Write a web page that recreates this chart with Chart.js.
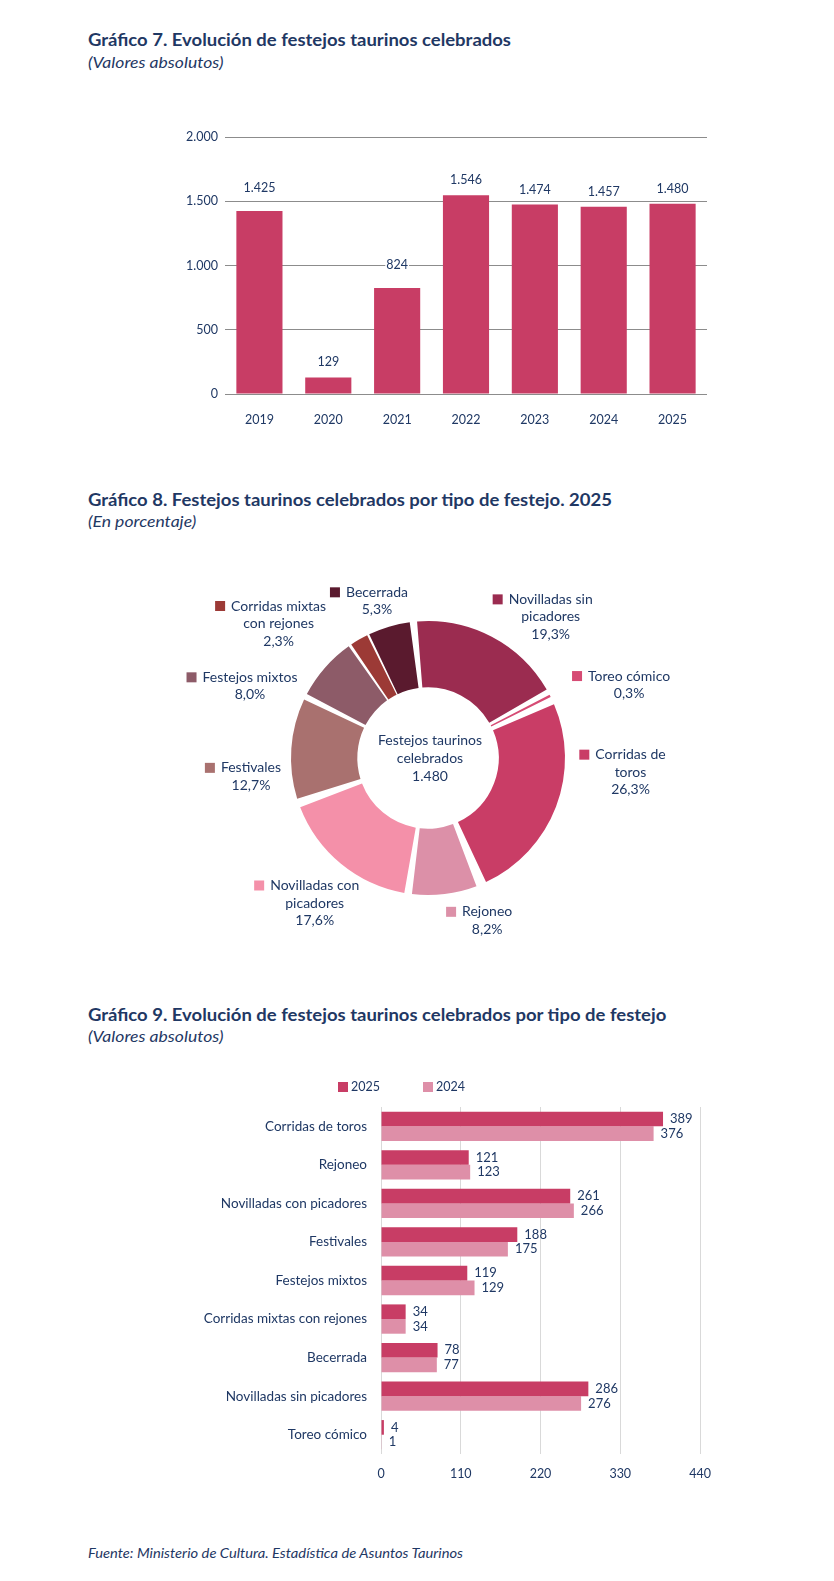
<!DOCTYPE html>
<html lang="es">
<head>
<meta charset="utf-8">
<title>Festejos taurinos</title>
<script src="https://cdn.jsdelivr.net/npm/chart.js@4.4.1/dist/chart.umd.min.js"></script>
<style>
  body { margin: 0; background: #fff; font-family: Lato, 'Open Sans', sans-serif; color: #1f3864; }
  .page { position: relative; width: 834px; height: 1581px; overflow: hidden; }
  .title { position: absolute; left: 88px; font-weight: 700; font-size: 16.5px; line-height: 20px;
           white-space: nowrap; transform: scaleX(1.12); transform-origin: left center; }
  .sub { position: absolute; left: 88px; font-style: italic; font-size: 15px; line-height: 18px;
         white-space: nowrap; transform: scaleX(1.17); transform-origin: left center; }
  .src { position: absolute; left: 88px; top: 1544px; font-style: italic; font-size: 13.5px; line-height: 18px;
         white-space: nowrap; transform: scaleX(1.09); transform-origin: left center; }
  .box { position: absolute; }
</style>
</head>
<body>
<div class="page">
  <div class="title" style="top:30px">Gráfico 7. Evolución de festejos taurinos celebrados</div>
  <div class="sub" style="top:53px">(Valores absolutos)</div>
  <div class="box" style="left:150px; top:115px; width:560px; height:309px"><canvas id="chart7"></canvas></div>

  <div class="title" style="top:490px">Gráfico 8. Festejos taurinos celebrados por tipo de festejo. 2025</div>
  <div class="sub" style="top:512px">(En porcentaje)</div>
  <div class="box" style="left:128px; top:568px; width:600px; height:380px"><canvas id="chart8"></canvas></div>

  <div class="title" style="top:1005px">Gráfico 9. Evolución de festejos taurinos celebrados por tipo de festejo</div>
  <div class="sub" style="top:1027px">(Valores absolutos)</div>
  <div class="box" style="left:150px; top:1070px; width:580px; height:414px"><canvas id="chart9"></canvas></div>

  <div class="src">Fuente: Ministerio de Cultura. Estadística de Asuntos Taurinos</div>
</div>

<script>
'use strict';

// --- Gráfico 7 ---
const years = ['2019', '2020', '2021', '2022', '2023', '2024', '2025'];
const festejosTotal = [1425, 129, 824, 1546, 1474, 1457, 1480];
const labelLift7 = [8, 0, 8, 0, 0, 0, 0]; // a few labels sit higher in the original

// --- Gráfico 8 (clockwise from the top) ---
const tipoLabels = [
    ['Novilladas sin', 'picadores'],
    ['Toreo cómico'],
    ['Corridas de', 'toros'],
    ['Rejoneo'],
    ['Novilladas con', 'picadores'],
    ['Festivales'],
    ['Festejos mixtos'],
    ['Corridas mixtas', 'con rejones'],
    ['Becerrada']
];
const tipoPct = [19.3, 0.3, 26.3, 8.2, 17.6, 12.7, 8.0, 2.3, 5.3];
const tipoColors = ['#9b2c50', '#d64b74', '#c93d66', '#dc90a8', '#f490a9', '#a9716f', '#8d5b68', '#9c3a36', '#5a1a2e'];
// where each slice label sits: angle (deg, clockwise from north) and distance from centre
const labelAngle = [41, 70, 94, 160, 218, 264, 292, 312, 342];
const labelDist = [187, 214, 203, 173, 184, 178, 192, 201, 165];

// --- Gráfico 9 ---
const tipoCats = ['Corridas de toros', 'Rejoneo', 'Novilladas con picadores', 'Festivales', 'Festejos mixtos',
    'Corridas mixtas con rejones', 'Becerrada', 'Novilladas sin picadores', 'Toreo cómico'];
const serie2025 = [389, 121, 261, 188, 119, 34, 78, 286, 4];
const serie2024 = [376, 123, 266, 175, 129, 34, 77, 276, 1];
const xTicks9 = [0, 110, 220, 330, 440];

const NAVY = '#1f3864';
const BAR = '#c83d65';
const BAR_LIGHT = '#de8fa8';
const FONT = 'Lato, "Open Sans", sans-serif';

Chart.defaults.font.family = FONT;
Chart.defaults.font.size = 12.5;
Chart.defaults.color = NAVY;
Chart.defaults.animation = false;

const fmt = v => String(v).replace(/\B(?=(\d{3})+(?!\d))/g, '.');
const fmtPct = v => v.toFixed(1).replace('.', ',') + '%';

// value labels above the bars (chart 7) or right of them (chart 9)
const barLabels = {
    id: 'barLabels',
    afterDatasetsDraw(chart) {
        const ctx = chart.ctx;
        const horizontal = chart.options.indexAxis === 'y';
        ctx.save();
        ctx.font = (horizontal ? '13px ' : '12.5px ') + FONT;
        chart.data.datasets.forEach((ds, di) => {
            chart.getDatasetMeta(di).data.forEach((el, i) => {
                const txt = fmt(ds.data[i]);
                if (horizontal) {
                    ctx.fillStyle = NAVY;
                    ctx.textAlign = 'left';
                    ctx.textBaseline = 'middle';
                    ctx.fillText(txt, el.x + 7, el.y);
                } else {
                    const y = el.y - 15 - labelLift7[i];
                    const w = ctx.measureText(txt).width;
                    ctx.fillStyle = '#fff';
                    ctx.fillRect(el.x - w / 2 - 1, y - 6, w + 2, 12);
                    ctx.fillStyle = NAVY;
                    ctx.textAlign = 'center';
                    ctx.textBaseline = 'middle';
                    ctx.fillText(txt, el.x, y);
                }
            });
        });
        ctx.restore();
    }
};

new Chart(document.getElementById('chart7'), {
    type: 'bar',
    data: {
        labels: years,
        datasets: [{ data: festejosTotal, backgroundColor: BAR, barPercentage: 0.67, categoryPercentage: 1 }]
    },
    options: {
        responsive: true,
        maintainAspectRatio: false,
        layout: { padding: { top: 22, right: 3 } },
        plugins: { legend: { display: false }, tooltip: { enabled: false } },
        scales: {
            x: {
                grid: { display: false },
                border: { display: false },
                ticks: { padding: 10 },
                afterFit(s) { s.height = 30; }
            },
            y: {
                min: 0, max: 2000,
                grid: { color: '#8c8c8c', lineWidth: 1, drawTicks: false },
                border: { display: false },
                ticks: { stepSize: 500, padding: 7, callback: v => fmt(v) },
                afterFit(s) { s.width = 75; }
            }
        }
    },
    plugins: [barLabels]
});

// doughnut labels with colour key, plus the text in the hole
const donutLabels = {
    id: 'donutLabels',
    afterDraw(chart) {
        const ctx = chart.ctx;
        const arc = chart.getDatasetMeta(0).data[0];
        const cx = arc.x, cy = arc.y;
        const lh = 17.5;
        ctx.save();
        ctx.font = '14px ' + FONT;
        ctx.textAlign = 'center';
        ctx.textBaseline = 'middle';
        tipoLabels.forEach((lines, i) => {
            const a = labelAngle[i] * Math.PI / 180;
            const x = cx + labelDist[i] * Math.sin(a);
            const y = cy - labelDist[i] * Math.cos(a);
            const all = lines.concat([fmtPct(tipoPct[i])]);
            const top = y - (all.length - 1) * lh / 2;
            ctx.fillStyle = NAVY;
            all.forEach((t, k) => ctx.fillText(t, x, top + k * lh));
            const w = ctx.measureText(all[0]).width;
            ctx.fillStyle = tipoColors[i];
            ctx.fillRect(x - w / 2 - 16, top - 5, 10, 10);
        });
        ctx.fillStyle = NAVY;
        ['Festejos taurinos', 'celebrados', fmt(1480)].forEach((t, k) => ctx.fillText(t, cx + 2, cy - 18 + k * 18));
        ctx.restore();
    }
};

new Chart(document.getElementById('chart8'), {
    type: 'doughnut',
    data: {
        labels: tipoLabels.map(l => l.join(' ')),
        datasets: [{
            data: tipoPct,
            backgroundColor: tipoColors,
            borderWidth: 0,
            spacing: 14,
            hoverOffset: 0
        }]
    },
    options: {
        responsive: true,
        maintainAspectRatio: false,
        rotation: -7,
        radius: 130,
        cutout: '49%',
        plugins: { legend: { display: false }, tooltip: { enabled: false } }
    },
    plugins: [donutLabels]
});

// legend for chart 9 drawn above the plot
const legend9 = {
    id: 'legend9',
    afterDraw(chart) {
        const ctx = chart.ctx;
        const y = chart.chartArea.top - 20;
        let x = chart.chartArea.left - 43;
        ctx.save();
        ctx.font = '12.5px ' + FONT;
        ctx.textBaseline = 'middle';
        ctx.textAlign = 'left';
        chart.data.datasets.forEach(ds => {
            ctx.fillStyle = ds.backgroundColor;
            ctx.fillRect(x, y - 5, 10, 10);
            ctx.fillStyle = NAVY;
            ctx.fillText(ds.label, x + 13, y);
            x += 85;
        });
        ctx.restore();
    }
};

new Chart(document.getElementById('chart9'), {
    type: 'bar',
    data: {
        labels: tipoCats,
        datasets: [
            { label: '2025', data: serie2025, backgroundColor: BAR, barPercentage: 1, categoryPercentage: 0.76 },
            { label: '2024', data: serie2024, backgroundColor: BAR_LIGHT, barPercentage: 1, categoryPercentage: 0.76 }
        ]
    },
    options: {
        indexAxis: 'y',
        responsive: true,
        maintainAspectRatio: false,
        layout: { padding: { top: 37, right: 30 } },
        plugins: { legend: { display: false }, tooltip: { enabled: false } },
        scales: {
            x: {
                min: 0, max: 440,
                afterBuildTicks(s) { s.ticks = xTicks9.map(v => ({ value: v })); },
                grid: { color: '#d9d9d9', lineWidth: 1, drawTicks: false },
                border: { display: false },
                ticks: { padding: 12 },
                afterFit(s) { s.height = 30; }
            },
            y: {
                grid: { display: false },
                border: { display: false },
                ticks: { padding: 6, font: { size: 13.5 } },
                afterFit(s) { s.width = 231; }
            }
        }
    },
    plugins: [barLabels, legend9]
});
</script>
</body>
</html>
